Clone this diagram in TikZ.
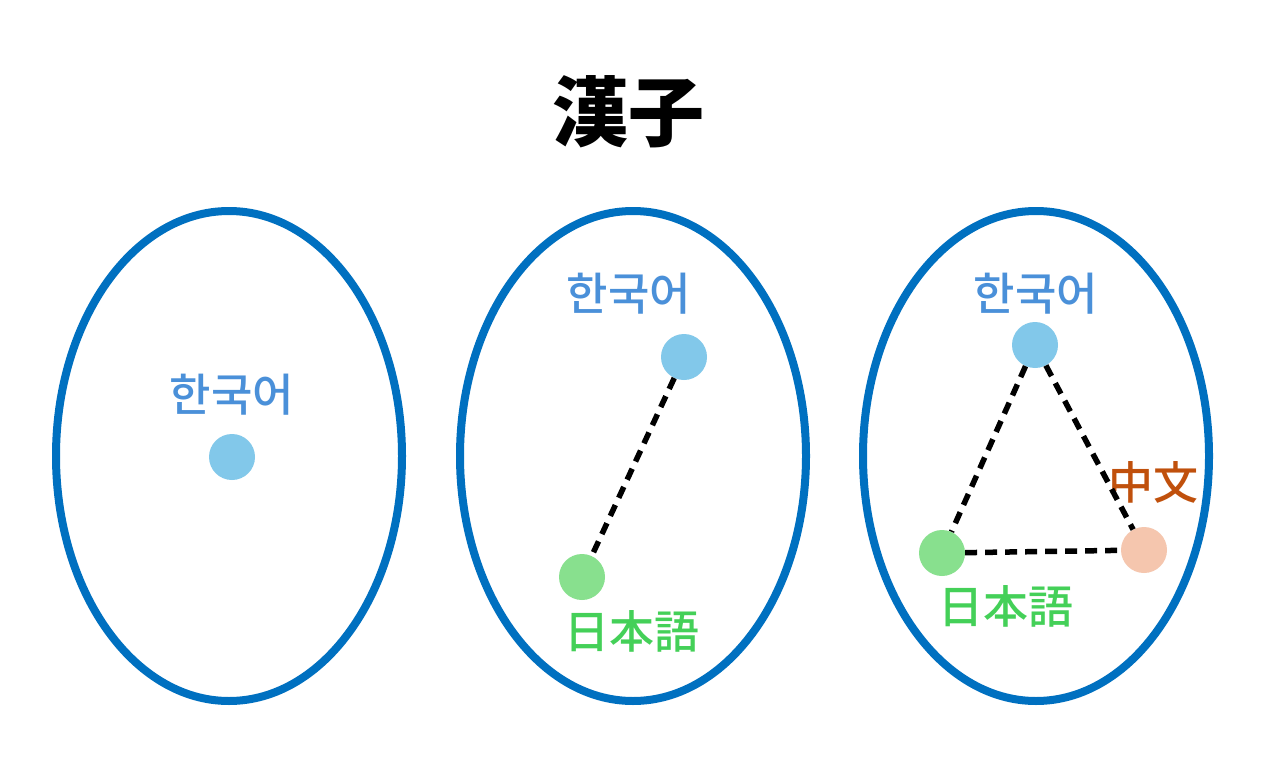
\documentclass[tikz,border=0pt]{standalone}
\usepackage{fontspec}
\newfontfamily\krfont{Noto Sans CJK KR}
\newfontfamily\krmed{Noto Sans CJK KR Medium}
\definecolor{ring}{HTML}{0070C0}
\definecolor{kotext}{HTML}{4A90D9}
\definecolor{kodot}{HTML}{82C8EA}
\definecolor{jadot}{HTML}{88E08E}
\definecolor{jatext}{HTML}{44D058}
\definecolor{zhdot}{HTML}{F5C6AE}
\definecolor{zhtext}{HTML}{C0500C}
\tikzset{
  ringshape/.style={draw=ring, line width=8pt, ellipse},
  dot/.style={circle, inner sep=0pt, minimum size=46pt},
  lbl/.style={font=\krmed\fontsize{45}{50}\selectfont, inner sep=0pt},
  link/.style={draw=black, line width=5.5pt, dash pattern=on 12pt off 8pt}
}
\usetikzlibrary{shapes.geometric}
\begin{document}
\begin{tikzpicture}[x=1pt,y=-1pt]
\useasboundingbox[fill=white] (0,0) rectangle (1280,784);
\node[font=\krfont\bfseries\fontsize{76}{80}\selectfont, inner sep=0pt] (title) at (628,112) {漢子};
% rings
\node[ringshape, minimum width=346pt, minimum height=490pt] (r1) at (229,456) {};
\node[ringshape, minimum width=346pt, minimum height=490pt] (r2) at (633,456) {};
\node[ringshape, minimum width=346pt, minimum height=490pt] (r3) at (1036,456) {};
% left
\node[lbl, text=kotext] (k1) at (232,395) {한국어};
\node[dot, fill=kodot] (kd1) at (232,457) {};
% middle
\node[lbl, text=kotext] (k2) at (629,294) {한국어};
\node[dot, fill=kodot] (kd2) at (684,357) {};
\node[dot, fill=jadot] (jd2) at (582,577) {};
\node[lbl, text=jatext] (j2) at (632,631) {日本語};
\draw[link] (kd2) -- (jd2);
% right
\node[lbl, text=kotext] (k3) at (1036,294) {한국어};
\node[dot, fill=kodot] (kd3) at (1035,345) {};
\node[dot, fill=jadot] (jd3) at (942,553) {};
\node[dot, fill=zhdot] (zd3) at (1144,550) {};
\node[lbl, text=zhtext] (z3) at (1153,482) {中文};
\node[lbl, text=jatext] (j3) at (1006,606) {日本語};
\draw[link] (kd3) -- (jd3);
\draw[link] (kd3) -- (zd3);
\draw[link] (jd3) -- (zd3);
\end{tikzpicture}
\end{document}
